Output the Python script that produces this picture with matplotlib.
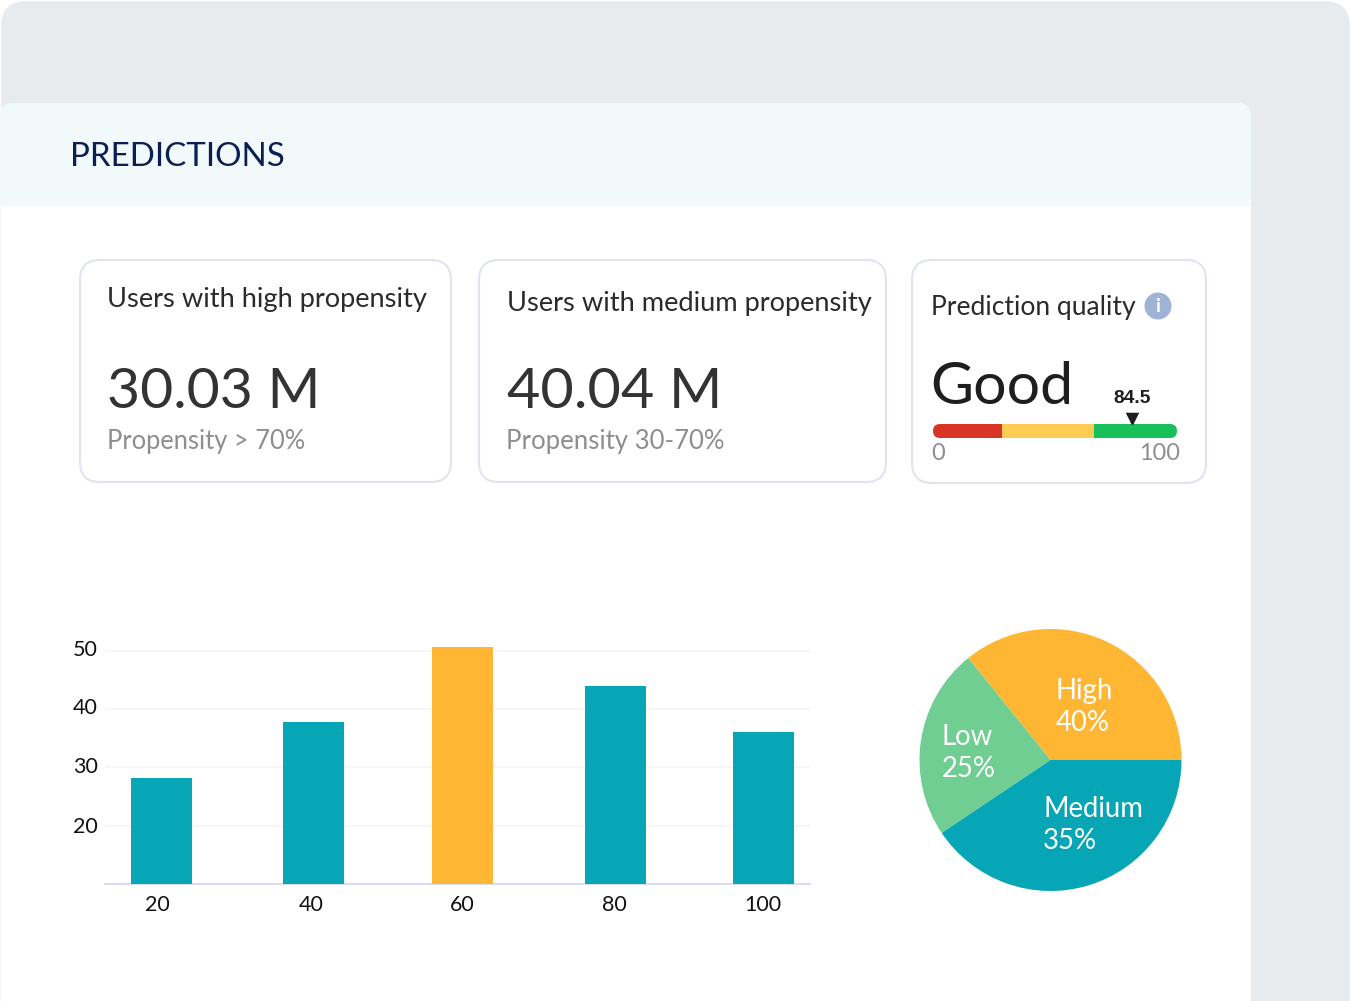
import matplotlib
matplotlib.use("Agg")
import matplotlib.pyplot as plt
from matplotlib.patches import FancyBboxPatch, Rectangle, Circle
from matplotlib.transforms import ScaledTranslation

W, H = 1351, 1001

# bar chart
bar_labels = ['20', '40', '60', '80', '100']
bar_values = [28.2, 37.8, 50.6, 44.0, 36.0]
bar_colors = ['#07A6B7', '#07A6B7', '#FFB633', '#07A6B7', '#07A6B7']
y_ticks = [20, 30, 40, 50]

# pie, wedge sizes as drawn, labels as printed
pie_sizes = [35.8, 23.6, 40.6]
pie_labels = ['High\n40%', 'Low\n25%', 'Medium\n35%']
pie_colors = ['#FFB633', '#70CE92', '#07A6B7']

# gauge
gauge_edges = [0, 28.3, 66, 100]
gauge_colors = ['#D93526', '#FFCC52', '#18C05A']
gauge_marker = 81.6
gauge_text = '84.5'

FONT = 'Lato'
plt.rcParams['font.family'] = [FONT, 'DejaVu Sans']


def px_axes(fig, x0, y0, x1, y1):
    # axes placed by pixel box, y measured from the top
    return fig.add_axes([x0 / W, 1 - y1 / H, (x1 - x0) / W, (y1 - y0) / H])


def label(ax, x, y, s, px, color='#2B2B2B', ha='left', **kw):
    return ax.text(x, y, s, fontsize=px * 0.72, color=color, ha=ha,
                   va='center', **kw)


def round_box(ax, x0, y0, x1, y1, r, **kw):
    box = FancyBboxPatch((x0 + r, y0 + r), x1 - x0 - 2 * r, y1 - y0 - 2 * r,
                         boxstyle=f'round,pad={r},rounding_size={r}', **kw)
    ax.add_patch(box)
    return box


fig = plt.figure(figsize=(W / 100, H / 100), dpi=100, facecolor='white')

bg = fig.add_axes([0, 0, 1, 1])
bg.set_xlim(0, W)
bg.set_ylim(H, 0)
bg.axis('off')

# grey frame, white panel, pale header
round_box(bg, 1, 1, 1350, 1040, 26, fc='#E7EBEE', ec='none')
round_box(bg, 0, 103, 1251, 1060, 14, fc='white', ec='none')
round_box(bg, 0, 103, 1251, 240, 14, fc='#F1F9FB', ec='none')
bg.add_patch(Rectangle((0, 206), 1251, 50, fc='white', ec='none'))
bg.add_patch(Rectangle((0, 206), 1.2, 795, fc='#F3F5F6', ec='none'))
label(bg, 70, 157, 'PREDICTIONS', 33.2, color='#0B1F52')

# cards
for x0, y0, x1, y1 in [(80, 260, 451, 482), (479, 260, 886, 482), (912, 260, 1206, 483)]:
    round_box(bg, x0, y0, x1, y1, 20, fc='white', ec='#DFE4F0', lw=1.5)

label(bg, 107, 299, 'Users with high propensity', 27.2)
label(bg, 107, 392, '30.03 M', 57, color='#333333')
label(bg, 107, 441, 'Propensity > 70%', 25.5, color='#8E8E8E')

label(bg, 507, 303, 'Users with medium propensity', 27.3)
label(bg, 507, 392, '40.04 M', 57.5, color='#333333')
label(bg, 506, 441, 'Propensity 30-70%', 25.8, color='#8E8E8E')

label(bg, 931, 307, 'Prediction quality', 26.5)
bg.add_patch(Circle((1158, 306), 13.5, fc='#9FB3D5', ec='none'))
label(bg, 1158, 306, 'i', 19, color='white', ha='center', fontweight='bold')
label(bg, 930, 388, 'Good', 59, color='#1E1E1E')
label(bg, 931, 454, '0', 23.5, color='#8E8E8E')
label(bg, 1180, 454, '100', 23.5, color='#8E8E8E', ha='right')

# gauge strip, clipped to a rounded track drawn in pixels
track = round_box(bg, 933, 424, 1177, 438, 7, fc='none', ec='none')
gauge = px_axes(fig, 933, 424, 1177, 438)
gauge.set_xlim(0, 100)
gauge.set_ylim(0, 1)
gauge.axis('off')
for left, right, c in zip(gauge_edges[:-1], gauge_edges[1:], gauge_colors):
    seg = gauge.barh(0.5, right - left, left=left, height=1, color=c, lw=0)[0]
    seg.set_clip_path(track)

marker_ax = px_axes(fig, 933, 385, 1177, 424)
marker_ax.set_xlim(0, 100)
marker_ax.set_ylim(0, 39)
marker_ax.axis('off')
marker_ax.scatter([gauge_marker], [5.5], marker='v', s=95, color='#1E1E1E', lw=0)
marker_ax.text(gauge_marker, 25.5, gauge_text, fontsize=13.8, fontweight='bold',
               family=['Liberation Sans'], color='#1E1E1E', ha='center', va='center')

# bars
bar_centers = [161.5, 313.5, 462.5, 615.5, 763.5]
label_centers = [157, 311, 462, 614, 763]
ax = px_axes(fig, 105, 640, 810, 884)
ax.set_xlim(105, 810)
ax.set_ylim(10, 10 + 244 / 5.83)
ax.patch.set_alpha(0)
ax.bar(bar_centers, bar_values, width=61, bottom=0, color=bar_colors, zorder=3)
ax.set_yticks(y_ticks)
ax.set_xticks(label_centers, bar_labels)
ax.grid(axis='y', color='#F5F6FB', lw=1.5, zorder=0)
ax.tick_params(length=0, labelsize=15.5, labelcolor='#111111')
ax.tick_params(axis='x', pad=8)
ax.tick_params(axis='y', pad=5)
for tick_label, shift in zip(ax.get_yticklabels(), [1, 2, 3, 3]):
    tick_label.set_transform(tick_label.get_transform() +
                             ScaledTranslation(0, shift / 100, fig.dpi_scale_trans))
for side in ['top', 'right', 'left']:
    ax.spines[side].set_visible(False)
ax.spines['bottom'].set_color('#DADDEE')
ax.spines['bottom'].set_linewidth(1.5)

# pie
pie_ax = px_axes(fig, 915.5, 625, 1185.5, 895)
pie_ax.pie(pie_sizes, colors=pie_colors, startangle=0, counterclock=True,
           radius=131 / 135, wedgeprops={'lw': 0})
pie_ax.set_xlim(-1, 1)
pie_ax.set_ylim(-1, 1)
for (x, y), s in zip([(1056, 707), (942, 753), (1043, 825)], pie_labels):
    fig.text(x / W, 1 - y / H, s, fontsize=27.5 * 0.72, color='white',
             ha='left', va='center', linespacing=1.3)

fig.savefig('out.png', dpi=100)
